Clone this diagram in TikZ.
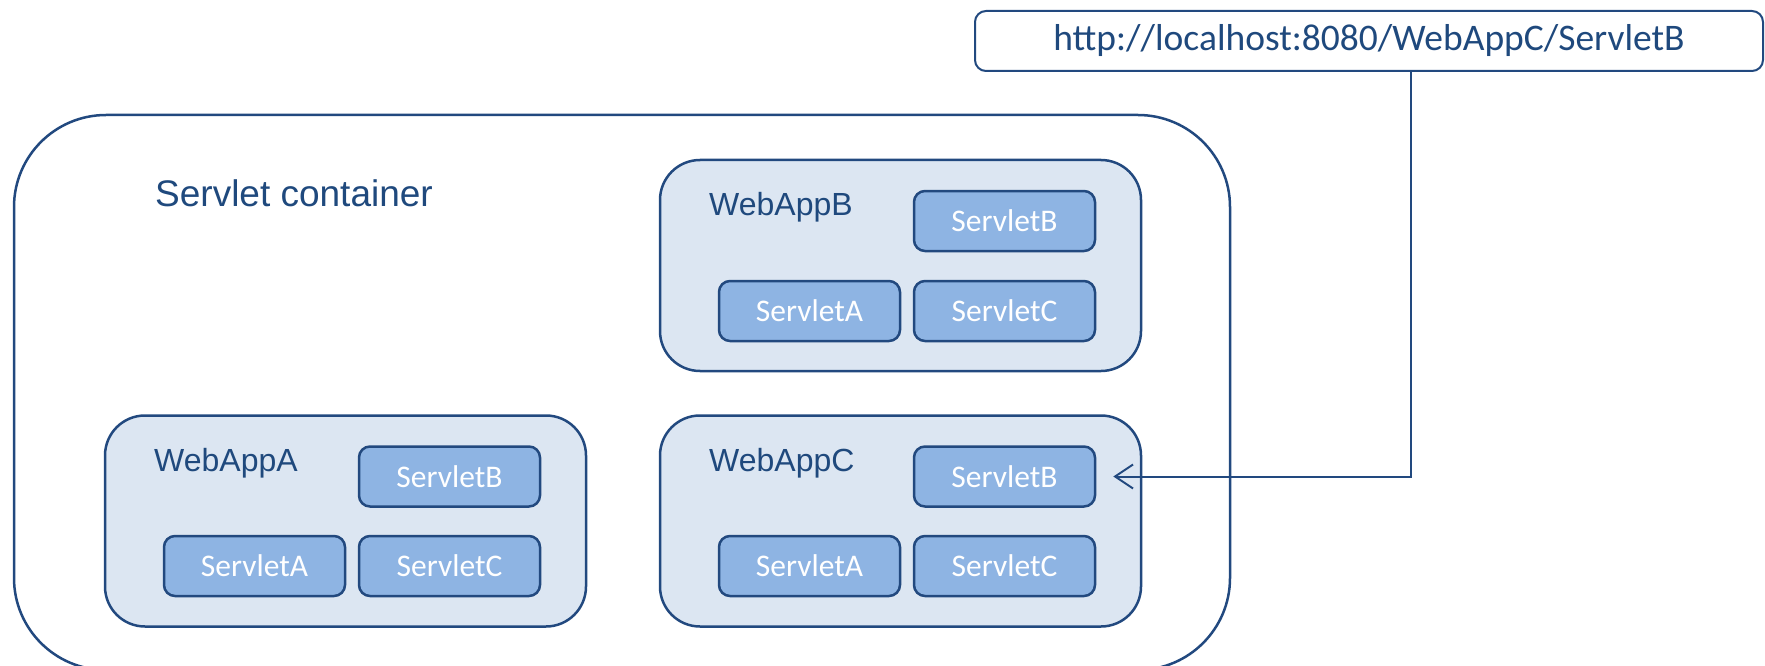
\documentclass[tikz,border=0pt]{standalone}
\usepackage{fontspec}
\newfontfamily\arialf{Liberation Sans}
\newfontfamily\calibrif{Carlito}
\usetikzlibrary{arrows.meta}
\definecolor{edgeblue}{HTML}{22497F}
\definecolor{textblue}{HTML}{1F497D}
\definecolor{appfill}{HTML}{DCE6F2}
\definecolor{servfill}{HTML}{8EB4E3}
\tikzset{
  containerbox/.style={draw=edgeblue, line width=2.5pt, rounded corners=92pt, rectangle, minimum width=1216pt, minimum height=555pt, inner sep=0pt},
  appbox/.style={draw=edgeblue, fill=appfill, line width=2.5pt, rounded corners=40pt, rectangle, minimum width=481pt, minimum height=211pt, inner sep=0pt},
  servbox/.style={draw=edgeblue, fill=servfill, line width=2.5pt, rounded corners=11pt, rectangle, minimum width=181pt, minimum height=60pt, inner sep=0pt, text=white, font=\calibrif\fontsize{31.5}{36}\selectfont},
  urlbox/.style={draw=edgeblue, line width=2pt, rounded corners=11pt, rectangle, minimum width=788pt, minimum height=60pt, inner sep=0pt, text=textblue, font=\calibrif\fontsize{37.5}{42}\selectfont},
  applabel/.style={anchor=base west, inner sep=0pt, text=textblue, font=\arialf\fontsize{32}{36}\selectfont},
  conn/.style={draw=edgeblue, line width=2pt, -{Straight Barb[length=18pt, width=24pt, line width=2pt]}}
}
\begin{document}
\begin{tikzpicture}[x=1pt, y=-1pt]
\useasboundingbox (0,0) rectangle (1765,666);
% outer container
\node[containerbox] (cont) at (622,392.5) {};
\node[anchor=base west, inner sep=0pt, text=textblue, font=\arialf\fontsize{37}{42}\selectfont] (contlabel) at (155,207) {Servlet container};
% WebAppB
\node[appbox] (appB) at (900.5,265.5) {};
\node[applabel] (appBlabel) at (709,215) {WebAppB};
\node[servbox] (bB) at (1004.5,221) {ServletB};
\node[servbox] (bA) at (809.5,311) {ServletA};
\node[servbox] (bC) at (1004.5,311) {ServletC};
% WebAppA
\node[appbox] (appA) at (345.5,521) {};
\node[applabel] (appAlabel) at (154,471) {WebAppA};
\node[servbox] (aB) at (449.5,476.5) {ServletB};
\node[servbox] (aA) at (254.5,566) {ServletA};
\node[servbox] (aC) at (449.5,566) {ServletC};
% WebAppC
\node[appbox] (appC) at (900.5,521) {};
\node[applabel] (appClabel) at (709,471) {WebAppC};
\node[servbox] (cB) at (1004.5,476.5) {ServletB};
\node[servbox] (cA) at (809.5,566) {ServletA};
\node[servbox] (cC) at (1004.5,566) {ServletC};
% URL
\node[urlbox] (url) at (1369,41) {http://localhost:8080/WebAppC/ServletB};
\coordinate (bend) at (1411,476.5);
\draw[conn] (url.south -| bend) |- ([xshift=17pt]cB.east);
\end{tikzpicture}
\end{document}
